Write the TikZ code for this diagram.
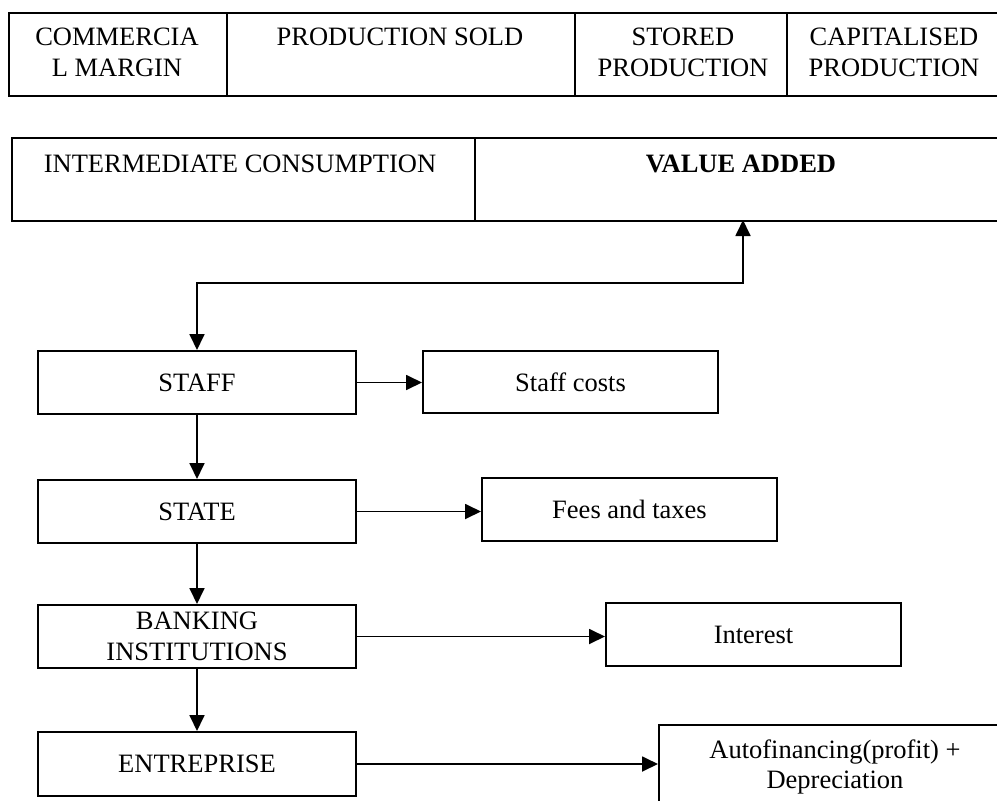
\documentclass[tikz,border=0pt]{standalone}
\usepackage{fontspec}
\setmainfont{Liberation Serif}
\usetikzlibrary{arrows.meta,positioning}

\tikzset{
  box/.style={draw, line width=2pt, inner sep=0pt, align=center},
  cell/.style={draw, line width=2pt, inner sep=0pt, anchor=north west},
  celltext/.style={inner sep=0pt, align=center, anchor=north},
  link/.style={line width=1.8pt, -{Triangle[length=16pt,width=15pt]}},
  twoway/.style={line width=1.8pt, {Triangle[length=16pt,width=15pt]}-{Triangle[length=16pt,width=15pt]}},
}

\begin{document}
\begin{tikzpicture}[x=1pt, y=-1pt, font=\fontsize{26.5}{30.5}\selectfont]
\clip (0,0) rectangle (997,801);

% ---- first table row: what the firm produces
\node[cell, minimum width=218pt, minimum height=83pt] (cm)  at (8,12)   {};
\node[cell, minimum width=348pt, minimum height=83pt] (ps)  at (226,12) {};
\node[cell, minimum width=212pt, minimum height=83pt] (sp)  at (574,12) {};
\node[cell, minimum width=230pt, minimum height=83pt] (cp)  at (786,12) {};
\node[celltext] (cmt) at (117,28) {COMMERCIA\\L MARGIN};
\node[celltext] (pst) at (400,28) {PRODUCTION SOLD};
\node[celltext] (spt) at (683,28) {STORED\\PRODUCTION};
\node[celltext] (cpt) at (894,28) {CAPITALISED\\PRODUCTION};

% ---- second table row: how the output splits
\node[cell, minimum width=463pt, minimum height=83pt] (ic) at (11,137)  {};
\node[cell, minimum width=540pt, minimum height=83pt] (va) at (474,137) {};
\node[celltext] (ict) at (240,155) {INTERMEDIATE CONSUMPTION};
\node[celltext] (vat) at (741,155) {\bfseries VALUE ADDED};
\coordinate (vafoot) at (743,220);

% ---- who receives the value added
\node[box, minimum width=318pt, minimum height=63pt] (staff)  at (197,382.5) {STAFF};
\node[box, minimum width=295pt, minimum height=62pt] (scost)  at (570.5,382) {Staff costs};
\node[box, minimum width=318pt, minimum height=63pt] (state)  at (197,511.5) {STATE};
\node[box, minimum width=295pt, minimum height=63pt] (fees)   at (629.5,509.5) {Fees and taxes};
\node[box, minimum width=318pt, minimum height=63pt] (bank)   at (197,636.5) {BANKING\\INSTITUTIONS};
\node[box, minimum width=295pt, minimum height=63pt] (inter)  at (753.5,634.5) {Interest};
\node[box, minimum width=318pt, minimum height=64pt] (firm)   at (197,764) {ENTREPRISE};
\node[box, minimum width=352pt, minimum height=85pt] (autof)  at (835,767) {Autofinancing(profit) +\\Depreciation};

% ---- connectors
\draw[twoway] (vafoot) -- ++(0,63) -| (staff.north);
\draw[link] (staff.east) -- (staff.east -| scost.west);
\draw[link] (state.east) -- (state.east -| fees.west);
\draw[link] (bank.east) -- (bank.east -| inter.west);
\draw[link] (firm.east) -- (firm.east -| autof.west);
\draw[link] (staff.south) -- (state.north);
\draw[link] (state.south) -- (bank.north);
\draw[link] (bank.south) -- (firm.north);
\end{tikzpicture}
\end{document}
